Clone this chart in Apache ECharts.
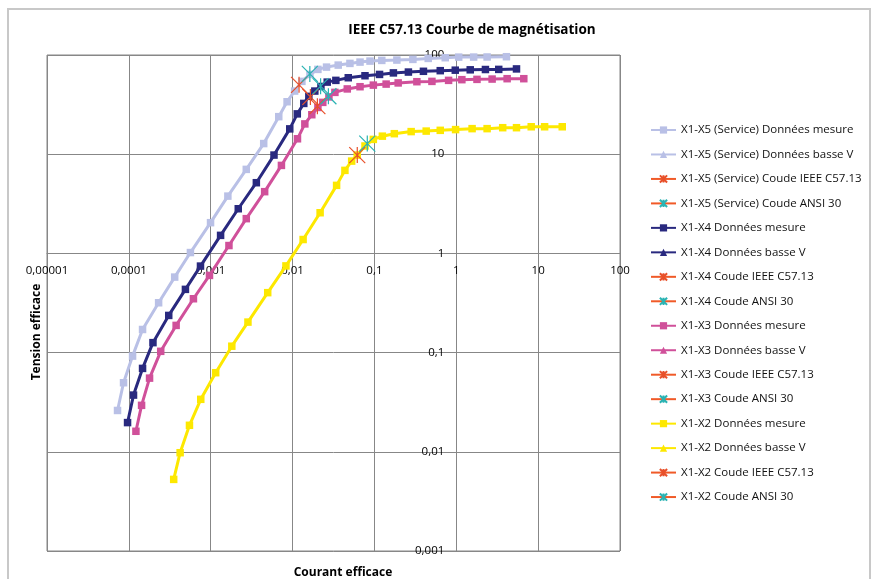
<!DOCTYPE html>
<html>
<head>
<meta charset="utf-8">
<script src="https://cdn.jsdelivr.net/npm/echarts@6/dist/echarts.min.js"></script>
<style>
  html, body { margin: 0; padding: 0; background: #fff; }
  #chart { width: 878px; height: 579px; }
</style>
</head>
<body>
<div id="chart"></div>
<script>
// Magnetisation curves: RMS current (A) vs RMS voltage (V), per tap
const x5Courant = [7.27e-5, 8.61e-5, 1.11e-4, 1.47e-4, 2.31e-4, 3.63e-4, 5.65e-4, 9.95e-4, 1.62e-3, 2.72e-3, 4.44e-3, 6.78e-3, 8.57e-3, 1.06e-2, 1.30e-2, 1.63e-2, 2.04e-2, 2.60e-2, 3.61e-2, 5.02e-2, 6.67e-2, 8.83e-2, 0.123, 0.188, 0.295, 0.454, 0.733, 1.07, 1.63, 2.38, 4.10];
const x5Tension = [0.0261, 0.0497, 0.0922, 0.171, 0.318, 0.577, 1.02, 2.04, 3.78, 7.03, 12.8, 23.9, 33.8, 43.3, 54.2, 63.7, 71.6, 75.5, 79.1, 82.3, 84.8, 86.8, 88.2, 88.9, 90.3, 92.4, 93.9, 95.2, 95.3, 95.5, 96.1];

const x4Courant = [9.64e-5, 1.14e-4, 1.47e-4, 1.97e-4, 3.07e-4, 4.91e-4, 7.50e-4, 1.32e-3, 2.17e-3, 3.61e-3, 5.93e-3, 9.24e-3, 1.142e-2, 1.371e-2, 1.58e-2, 1.87e-2, 2.22e-2, 2.65e-2, 3.38e-2, 4.79e-2, 7.67e-2, 0.1155, 0.1705, 0.260, 0.397, 0.637, 0.972, 1.48, 2.27, 3.30, 5.44];
const x4Tension = [0.0197, 0.0373, 0.0693, 0.126, 0.237, 0.434, 0.745, 1.52, 2.82, 5.16, 9.80, 18.0, 25.5, 32.5, 38.3, 43.3, 48.2, 53.3, 55.5, 59.0, 61.8, 63.7, 66.0, 67.3, 68.5, 69.5, 70.3, 70.9, 71.4, 71.6, 72.4];

const x3Courant = [1.22e-4, 1.43e-4, 1.79e-4, 2.45e-4, 3.78e-4, 6.15e-4, 9.66e-4, 1.67e-3, 2.72e-3, 4.56e-3, 7.31e-3, 1.148e-2, 1.412e-2, 1.718e-2, 2.04e-2, 2.34e-2, 2.78e-2, 3.29e-2, 4.66e-2, 6.67e-2, 9.70e-2, 0.139, 0.195, 0.330, 0.504, 0.805, 1.17, 1.79, 2.74, 4.18, 6.68];
const x3Tension = [0.0161, 0.0294, 0.0553, 0.103, 0.188, 0.349, 0.600, 1.20, 2.24, 4.19, 7.71, 14.3, 20.2, 25.0, 29.6, 33.3, 37.8, 42.0, 45.5, 47.9, 49.7, 50.9, 52.3, 53.8, 54.2, 55.5, 56.4, 56.8, 57.2, 57.7, 57.7];

const x2Courant = [3.53e-4, 4.23e-4, 5.50e-4, 7.56e-4, 1.15e-3, 1.81e-3, 2.85e-3, 4.97e-3, 8.30e-3, 1.345e-2, 2.17e-2, 3.45e-2, 4.36e-2, 5.27e-2, 6.17e-2, 7.67e-2, 9.70e-2, 0.125, 0.175, 0.281, 0.429, 0.637, 0.980, 1.56, 2.38, 3.69, 5.44, 8.23, 12.0, 19.7];
const x2Tension = [0.00527, 0.00979, 0.0185, 0.0338, 0.0627, 0.116, 0.203, 0.402, 0.748, 1.38, 2.57, 4.85, 6.87, 8.52, 9.80, 12.1, 14.1, 15.2, 16.1, 16.9, 17.1, 17.4, 17.7, 18.1, 18.1, 18.5, 18.5, 18.9, 18.9, 18.9];

// Low-voltage measurement sets (none recorded)
const x5BasseV = [];
const x4BasseV = [];
const x3BasseV = [];
const x2BasseV = [];

// Knee points [current, voltage]
const x5CoudeIEEE = [0.0120, 50.0];
const x5CoudeANSI = [0.01625, 64.5];
const x4CoudeIEEE = [0.0165, 37.8];
const x4CoudeANSI = [0.0220, 48.5];
const x3CoudeIEEE = [0.0201, 30.5];
const x3CoudeANSI = [0.0274, 38.4];
const x2CoudeIEEE = [0.0617, 9.80];
const x2CoudeANSI = [0.0818, 12.8];

const xTickLabels = ['0,00001', '0,0001', '0,001', '0,01', '0,1', '1', '10', '100'];
const yTickLabels = ['0,001', '0,01', '0,1', '1', '10', '100'];

const FONT = 'Open Sans';
const GRID_COLOR = '#878787';
const KNEE_LINE = '#f05a28';
const IEEE_COLOR = '#e8502a';
const ANSI_COLOR = '#2ab3b3';
const STAR = 'path://M0,0L10,10M10,0L0,10M5,0L5,10';

const zip = (xs, ys) => xs.map((x, i) => [x, ys[i]]);

function mesure(name, xs, ys, color) {
  return {
    name, type: 'line', data: zip(xs, ys),
    symbol: 'rect', symbolSize: 7.5,
    lineStyle: { color, width: 3 },
    itemStyle: { color },
    z: 2
  };
}
function basseV(name, data, color) {
  return {
    name, type: 'line', data,
    symbol: 'triangle', symbolSize: 7,
    lineStyle: { color, width: 3 },
    itemStyle: { color },
    z: 2
  };
}
function coude(name, pt, color) {
  return {
    name, type: 'line', data: [pt],
    symbol: STAR, symbolSize: 16,
    lineStyle: { color: KNEE_LINE, width: 2.5 },
    itemStyle: { color: 'rgba(0,0,0,0)', borderColor: color, borderWidth: 1.2 },
    z: 4
  };
}

const series = [
  mesure('X1-X5 (Service) Données mesure', x5Courant, x5Tension, '#b9c0e6'),
  basseV('X1-X5 (Service) Données basse V', x5BasseV, '#b9c0e6'),
  coude('X1-X5 (Service) Coude IEEE C57.13', x5CoudeIEEE, IEEE_COLOR),
  coude('X1-X5 (Service) Coude ANSI 30', x5CoudeANSI, ANSI_COLOR),
  mesure('X1-X4 Données mesure', x4Courant, x4Tension, '#29297f'),
  basseV('X1-X4 Données basse V', x4BasseV, '#29297f'),
  coude('X1-X4 Coude IEEE C57.13', x4CoudeIEEE, IEEE_COLOR),
  coude('X1-X4 Coude ANSI 30', x4CoudeANSI, ANSI_COLOR),
  mesure('X1-X3 Données mesure', x3Courant, x3Tension, '#d0509a'),
  basseV('X1-X3 Données basse V', x3BasseV, '#d0509a'),
  coude('X1-X3 Coude IEEE C57.13', x3CoudeIEEE, IEEE_COLOR),
  coude('X1-X3 Coude ANSI 30', x3CoudeANSI, ANSI_COLOR),
  mesure('X1-X2 Données mesure', x2Courant, x2Tension, '#fde800'),
  basseV('X1-X2 Données basse V', x2BasseV, '#fde800'),
  coude('X1-X2 Coude IEEE C57.13', x2CoudeIEEE, IEEE_COLOR),
  coude('X1-X2 Coude ANSI 30', x2CoudeANSI, ANSI_COLOR)
];

const chart = echarts.init(document.getElementById('chart'), null, { renderer: 'canvas' });

const gridLeft = 47, gridRight = 620, gridTop = 55, gridBottom = 551;
const plotW = gridRight - gridLeft, plotH = gridBottom - gridTop;

chart.setOption({
  animation: false,
  backgroundColor: '#fff',
  textStyle: { fontFamily: FONT },
  title: {
    text: 'IEEE C57.13 Courbe de magnétisation',
    left: 467, top: 18, textAlign: 'center',
    textStyle: { fontFamily: FONT, fontSize: 13.5, fontWeight: 'bold', color: '#000' }
  },
  graphic: [
    { type: 'rect', shape: { x: 8, y: 9, width: 862, height: 590 }, style: { fill: 'none', stroke: '#c8c8c8', lineWidth: 2 }, silent: true, z: -10 },
    { type: 'text', x: 37, y: 332, rotation: Math.PI / 2,
      style: { text: 'Tension efficace', fontFamily: FONT, fontSize: 12, fontWeight: 'bold', fill: '#000', align: 'center', verticalAlign: 'middle' } },
    { type: 'text', x: 343, y: 573,
      style: { text: 'Courant efficace', fontFamily: FONT, fontSize: 12, fontWeight: 'bold', fill: '#000', align: 'center', verticalAlign: 'middle' } }
  ],
  legend: {
    orient: 'vertical', left: 650, top: 123,
    itemWidth: 25, itemHeight: 9, itemGap: 10.47,
    padding: 0,
    textStyle: { fontFamily: FONT, fontSize: 11.5, lineHeight: 14, color: '#111' },
    data: series.map(s => s.name)
  },
  grid: {
    left: gridLeft, top: gridTop, width: plotW, height: plotH,
    show: true, borderColor: GRID_COLOR, borderWidth: 1, containLabel: false
  },
  xAxis: {
    type: 'log', logBase: 10, min: 0.00001, max: 100,
    position: 'bottom',
    offset: -plotH * 3 / 5,
    axisLine: { show: true, lineStyle: { color: GRID_COLOR, width: 1 } },
    axisTick: { show: false },
    axisLabel: {
      margin: 11, fontFamily: FONT, fontSize: 11.5, color: '#000',
      showMinLabel: true, showMaxLabel: true,
      formatter: v => xTickLabels[Math.round(Math.log10(v)) + 5]
    },
    splitLine: { show: true, lineStyle: { color: GRID_COLOR, width: 1 } },
    minorSplitLine: { show: false }
  },
  yAxis: {
    type: 'log', logBase: 10, min: 0.001, max: 100,
    position: 'left',
    offset: -plotW * 5 / 7,
    axisLine: { show: true, lineStyle: { color: GRID_COLOR, width: 1 } },
    axisTick: { show: false },
    axisLabel: {
      margin: 12, fontFamily: FONT, fontSize: 11.5, color: '#000',
      showMinLabel: true, showMaxLabel: true,
      formatter: v => yTickLabels[Math.round(Math.log10(v)) + 3]
    },
    splitLine: { show: true, lineStyle: { color: GRID_COLOR, width: 1 } }
  },
  series
});
</script>
</body>
</html>
